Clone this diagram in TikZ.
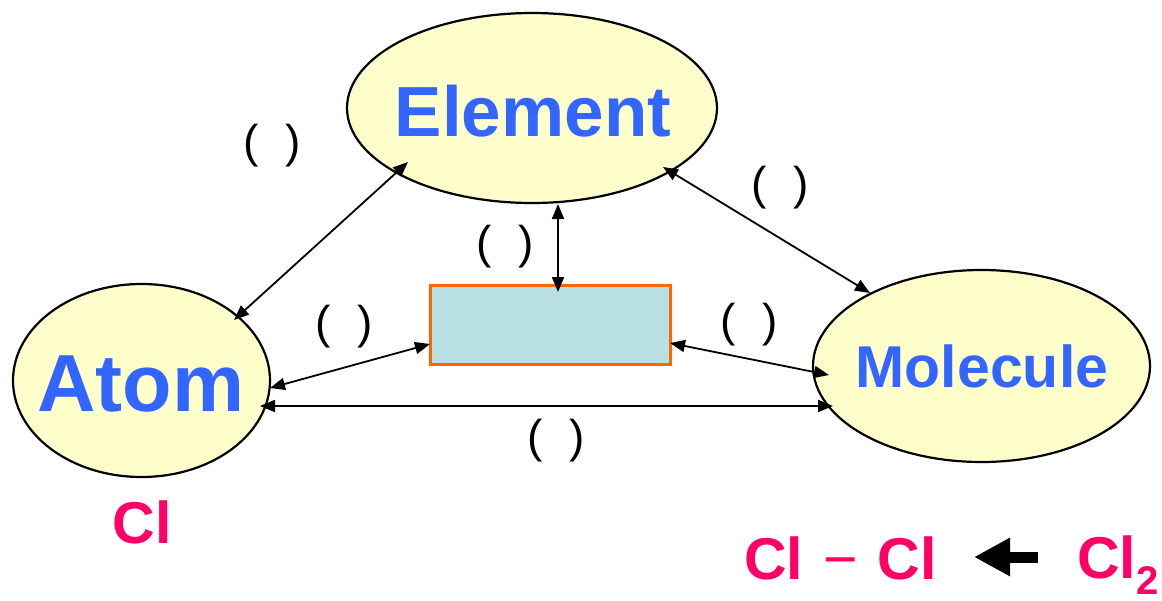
\documentclass[tikz,border=0pt]{standalone}
\usepackage{fontspec}
\setmainfont{Liberation Sans}
\usetikzlibrary{arrows.meta,shapes.geometric}
\definecolor{ellfill}{HTML}{FFFFCC}
\definecolor{txtblue}{HTML}{3366FF}
\definecolor{pinkred}{HTML}{FF0066}
\definecolor{boxfill}{HTML}{B9E0E3}
\definecolor{boxedge}{HTML}{FF6600}
\begin{document}
\begin{tikzpicture}[x=1pt,y=-1pt,
  ell/.style={ellipse, draw=black, line width=2.2pt, fill=ellfill, inner sep=0pt},
  conn/.style={line width=1.8pt, {Triangle[length=15pt,width=12pt]}-{Triangle[length=15pt,width=12pt]}},
  paren/.style={inner sep=0pt, font=\fontsize{46}{46}\selectfont},
  bigtxt/.style={inner sep=0pt, anchor=base, text=txtblue},
  pinktxt/.style={inner sep=0pt, text=pinkred, font=\fontsize{59}{59}\selectfont\bfseries},
  bigarrow/.style={line width=11pt, -{Triangle[length=36pt,width=36pt]}}
]
\useasboundingbox (0,0) rectangle (1162,600);
% ellipses
\node[ell, minimum width=370pt, minimum height=190pt] (elem) at (532,108) {};
\node[ell, minimum width=257pt, minimum height=193pt] (atom) at (141.5,380.5) {};
\node[ell, minimum width=337pt, minimum height=192pt] (mol) at (981.5,366) {};
\node[bigtxt, font=\fontsize{71}{71}\selectfont\bfseries] (elemt) at (533,136) {Element};
\node[bigtxt, font=\fontsize{81}{81}\selectfont\bfseries] (atomt) at (141,411) {Atom};
\node[bigtxt, font=\fontsize{59}{59}\selectfont\bfseries] (molt) at (982,387) {Molecule};
% box
\node[draw=boxedge, line width=3pt, fill=boxfill, minimum width=240pt, minimum height=79pt, inner sep=0pt] (box) at (550,324.5) {};
% connector ends
\coordinate (eA) at (408,162);
\coordinate (aE) at (234,320);
\coordinate (eM) at (663,167);
\coordinate (mE) at (870,293);
\coordinate (eB) at (558,204);
\coordinate (bE) at (558,292);
\coordinate (aB) at (270,388);
\coordinate (bA) at (430,344);
\coordinate (bM) at (670,343);
\coordinate (mB) at (829,375);
\coordinate (aM) at (260,406);
\coordinate (mA) at (833,406);
\draw[conn] (eA) -- (aE);
\draw[conn] (eM) -- (mE);
\draw[conn] (eB) -- (bE);
\draw[conn] (aB) -- (bA);
\draw[conn] (bM) -- (mB);
\draw[conn] (aM) -- (mA);
% labels
\node[paren] (l1) at (272,146) {(\hspace{27pt})};
\node[paren] (l2) at (780,188) {(\hspace{27pt})};
\node[paren] (l3) at (505,247) {(\hspace{27pt})};
\node[paren] (l4) at (344,327) {(\hspace{27pt})};
\node[paren] (l5) at (749,325) {(\hspace{27pt})};
\node[paren] (l6) at (556,441) {(\hspace{27pt})};
% chlorine
\node[pinktxt, anchor=base] (clatom) at (142,543) {Cl};
\node[pinktxt, anchor=base west] (clcl) at (744,579) {Cl\hspace{20pt}{\mdseries −}\hspace{20pt}Cl};
\node[pinktxt, anchor=base west] (cltwo) at (1077,578) {Cl\raisebox{-16pt}{\fontsize{40}{40}\selectfont 2}};
\coordinate (arrTail) at (1038,557);
\coordinate (arrTip) at (974,557);
\draw[bigarrow] (arrTail) -- (arrTip);
\end{tikzpicture}
\end{document}
